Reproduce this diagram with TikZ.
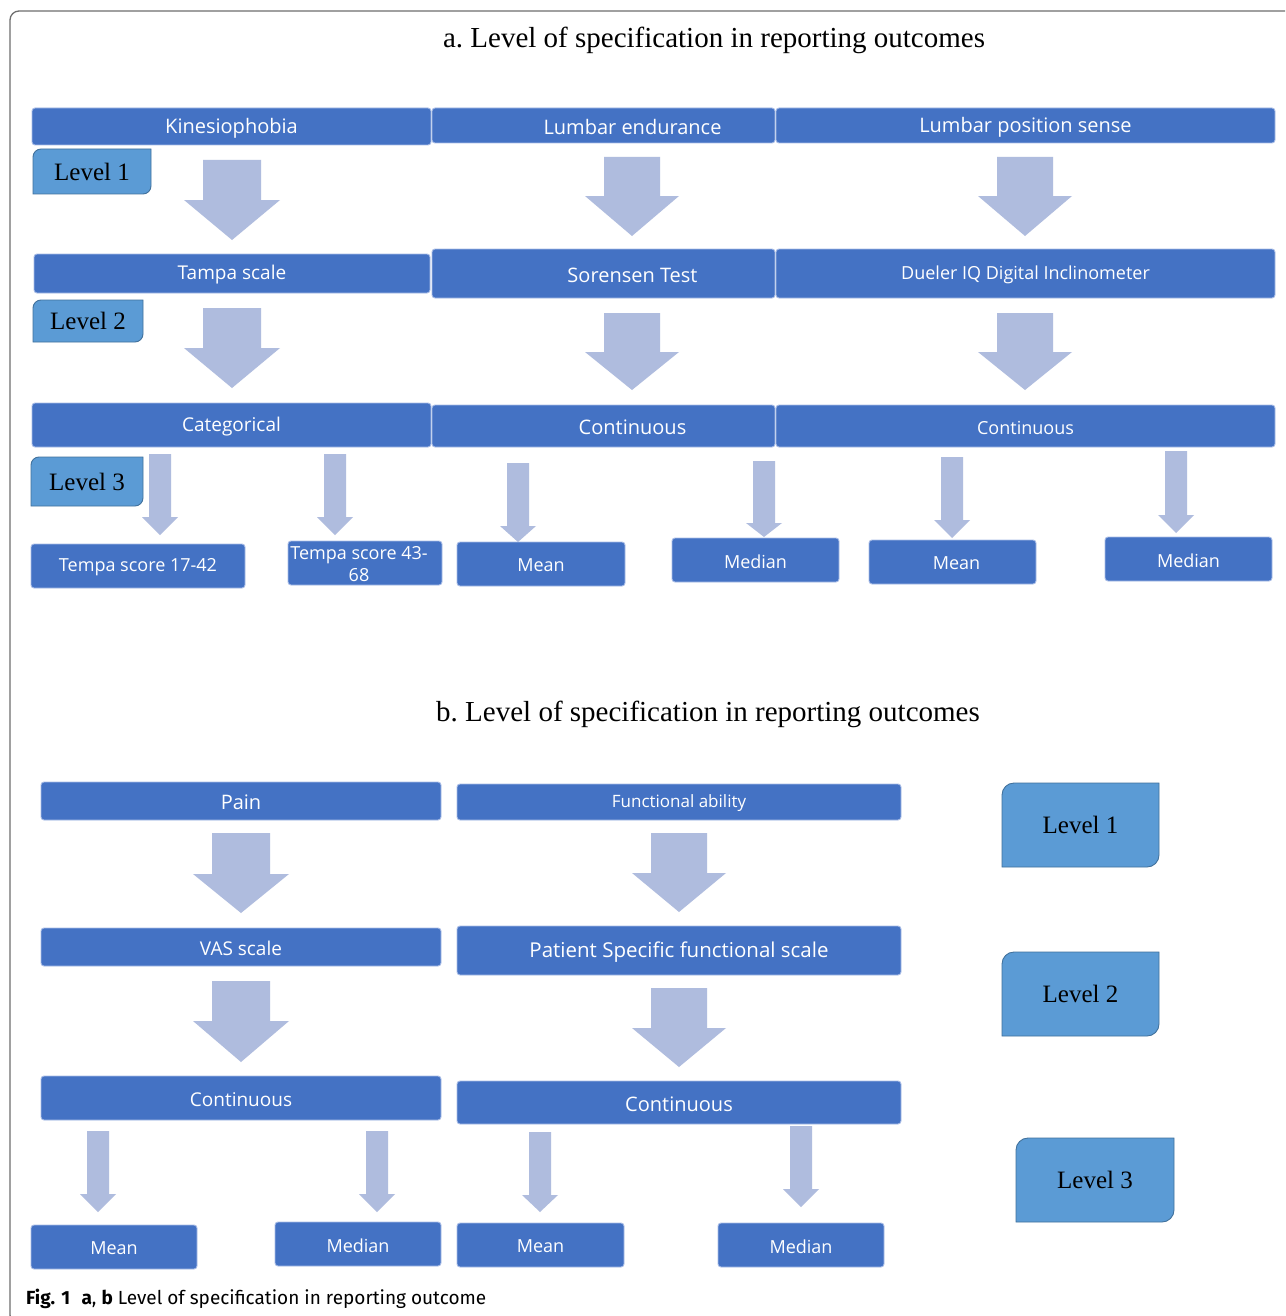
\documentclass[tikz,border=0pt]{standalone}
\usepackage{fontspec}
\setmainfont{Liberation Serif}
\newfontfamily\boxfont{Open Sans}
\newfontfamily\capfont{Fira Sans}
\definecolor{boxblue}{HTML}{4472C4}
\definecolor{boxedge}{HTML}{A9BDE6}
\definecolor{arrowc}{HTML}{AFBCDE}
\definecolor{lvlfill}{HTML}{5B9BD5}
\definecolor{lvledge}{HTML}{41719C}
\definecolor{framec}{HTML}{6E6E6E}
\tikzset{
  obox/.style={draw=boxedge, line width=0.9pt, fill=boxblue, rounded corners=3pt, inner sep=0pt},
  boxtext/.style={text=white, inner sep=0pt, align=center},
  arrowfill/.style={fill=arrowc},
  lvlstyle/.style={draw=lvledge, line width=0.9pt, fill=lvlfill},
  lvltext/.style={font=\fontsize{25}{28}\selectfont, text=black, inner sep=0pt},
  titletext/.style={font=\fontsize{29}{34}\selectfont, anchor=base, inner sep=0pt}
}
% [text x offset] name x1 y1 x2 y2 fontsize text
\newcommand\mkbox[8][0]{%
  \pgfmathsetmacro\bxw{#5-#3}%
  \pgfmathsetmacro\bxh{#6-#4}%
  \pgfmathsetmacro\bxcx{(#3+#5)/2}%
  \pgfmathsetmacro\bxcy{(#4+#6)/2}%
  \node[obox, minimum width=\bxw pt, minimum height=\bxh pt] (#2) at (\bxcx,\bxcy) {};
  \node[boxtext, font=\boxfont\fontsize{#7}{22}\selectfont] (#2-t) at ({\bxcx+#1},{\bxcy+1.5}) {#8};}
% cx top wing tip shafthalf headhalf
\newcommand\barrow[6]{%
  \fill[arrowfill] ({#1-#5},#2) -- ({#1+#5},#2) -- ({#1+#5},#3) -- ({#1+#6},#3) -- (#1,#4) -- ({#1-#6},#3) -- ({#1-#5},#3) -- cycle;}
% name x1 y1 x2 y2 r text
\newcommand\lvlbox[7]{%
  \draw[lvlstyle] (#2,#5) -- (#2,{#3+#6}) arc[start angle=180, end angle=270, radius=#6] -- (#4,#3) -- (#4,{#5-#6}) arc[start angle=0, end angle=90, radius=#6] -- cycle;
  \node[lvltext] (#1) at ({(#2+#4)/2},{(#3+#5)/2}) {#7};}
\begin{document}
\begin{tikzpicture}[x=1pt, y=-1pt]
\useasboundingbox (0,0) rectangle (1285,1316);
\clip (0,0) rectangle (1285,1316);
\fill[white] (0,0) rectangle (1285,1316);
% outer frame
\draw[framec, line width=1.3pt, rounded corners=9pt] (10,11) rectangle (1330,1324);

% ---------- part a ----------
\node[titletext] (ta) at (714,48) {a.\ Level of specification in reporting outcomes};

\mkbox{kin}{32}{108}{431}{145}{20}{Kinesiophobia}
\mkbox[29]{lend}{432}{108}{775}{143}{20}{Lumbar endurance}
\mkbox{lpos}{776}{108}{1275}{143}{20}{Lumbar position sense}

\lvlbox{la1}{33}{149}{151}{194}{8}{Level 1}

\barrow{232}{160}{200}{240}{29}{48}
\barrow{632}{157}{196}{236}{28}{47}
\barrow{1025}{157}{196}{236}{28}{47}

\mkbox{tampa}{34}{254}{430}{293}{19}{Tampa scale}
\mkbox[29]{sor}{432}{249}{775}{298}{20}{Sorensen Test}
\mkbox{dueler}{776}{249}{1275}{298}{18}{Dueler IQ Digital Inclinometer}

\lvlbox{la2}{33}{300}{143}{342}{8}{Level 2}

\barrow{232}{308}{348}{388}{29}{48}
\barrow{632}{313}{352}{390}{28}{47}
\barrow{1025}{313}{352}{390}{28}{47}

\mkbox{cat}{32}{403}{431}{447}{19}{Categorical}
\mkbox[29]{conta}{432}{405}{775}{447}{20}{Continuous}
\mkbox{contb}{776}{405}{1275}{447}{18}{Continuous}

\lvlbox{la3}{31}{457}{143}{506}{8}{Level 3}

\barrow{160}{454}{517}{535}{11}{18}
\barrow{335}{454}{517}{535}{11}{18}
\barrow{518}{463}{526}{542}{11}{18}
\barrow{764}{461}{523}{537}{11}{18}
\barrow{952}{457}{520}{538}{11}{18}
\barrow{1176}{451}{515}{533}{11}{18}

\mkbox{ta1}{31}{544}{245}{588}{18}{Tempa score 17-42}
\mkbox[-6]{ta2}{288}{541}{442}{585}{18}{Tempa score 43-\\68}
\mkbox{am1}{457}{542}{625}{586}{18}{Mean}
\mkbox{amd1}{672}{538}{839}{582}{18}{Median}
\mkbox[4]{am2}{869}{540}{1036}{584}{18}{Mean}
\mkbox{amd2}{1105}{537}{1272}{581}{18}{Median}

% ---------- part b ----------
\node[titletext] (tb) at (708,721) {b.\ Level of specification in reporting outcomes};

\mkbox{pain}{41}{782}{441}{820}{20}{Pain}
\mkbox{func}{457}{784}{901}{820}{17}{Functional ability}

\barrow{241}{833}{874}{913}{29}{48}
\barrow{679}{833}{873}{912}{28}{47}

\mkbox{vas}{41}{928}{441}{966}{19}{VAS scale}
\mkbox{psfs}{457}{926}{901}{975}{20.5}{Patient Specific functional scale}

\barrow{241}{981}{1021}{1062}{29}{48}
\barrow{679}{988}{1028}{1067}{28}{47}

\mkbox{contl}{41}{1076}{441}{1120}{19}{Continuous}
\mkbox{contr}{457}{1081}{901}{1124}{20}{Continuous}

\barrow{98}{1131}{1194}{1212}{11}{18}
\barrow{377}{1131}{1194}{1212}{11}{18}
\barrow{540}{1132}{1195}{1212}{11}{18}
\barrow{801}{1126}{1189}{1207}{11}{18}

\mkbox{bm1}{31}{1225}{197}{1269}{18}{Mean}
\mkbox{bmd1}{275}{1222}{441}{1266}{18}{Median}
\mkbox{bm2}{457}{1223}{624}{1267}{18}{Mean}
\mkbox{bmd2}{718}{1223}{884}{1267}{18}{Median}

\lvlbox{lb1}{1002}{783}{1159}{867}{12}{Level 1}
\lvlbox{lb2}{1002}{952}{1159}{1036}{12}{Level 2}
\lvlbox{lb3}{1016}{1138}{1174}{1222}{12}{Level 3}

% caption
\node[anchor=base west, inner sep=0pt, font=\capfont\fontsize{19}{22}\selectfont] (cap) at (26,1304)
  {\textbf{Fig. 1}\hspace{0.6em}\textbf{a}, \textbf{b} Level of specification in reporting outcome};
\end{tikzpicture}
\end{document}
